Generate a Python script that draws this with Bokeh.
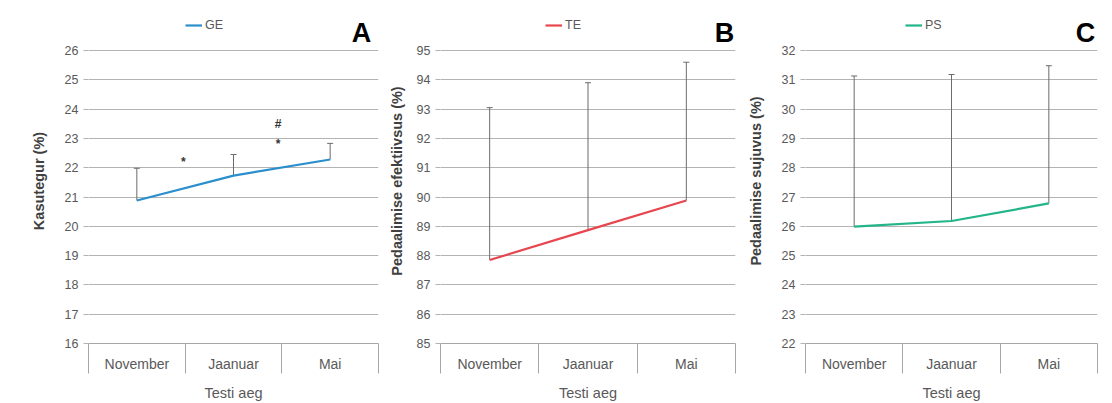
from bokeh.plotting import figure
from bokeh.models import (Range1d, FixedTicker, Whisker, ColumnDataSource, Legend,
                          LegendItem, Label, TeeHead)
from bokeh.layouts import row
from bokeh.embed import file_html
from bokeh.resources import INLINE
from bokeh.core.properties import value

# ---------------- data ----------------
categories = ["November", "Jaanuar", "Mai"]
x_title = "Testi aeg"

ge_mean = [20.88, 21.73, 22.28]
ge_sd = [1.10, 0.72, 0.55]
te_mean = [87.85, 88.87, 89.88]
te_sd = [5.20, 5.03, 4.72]
ps_mean = [25.99, 26.18, 26.78]
ps_sd = [5.14, 5.00, 4.70]

ge_ticks = [16, 17, 18, 19, 20, 21, 22, 23, 24, 25, 26]
te_ticks = [85, 86, 87, 88, 89, 90, 91, 92, 93, 94, 95]
ps_ticks = [22, 23, 24, 25, 26, 27, 28, 29, 30, 31, 32]

ge_marks = ["*", "#", "*"]
ge_mark_x = [0.98, 1.96, 1.96]
ge_mark_y = [22.2, 23.5, 22.8]

FONT = "Liberation Sans"
GRID = "#b3b3b3"
AXC = "#a6a6a6"
H = 403
TOP = 18         # frame starts above the value scale so legend / letter sit inside it
AXIS_TOP = 50    # where the value scale ends (top gridline)
BOTTOM = 60
VAL_H = H - BOTTOM - AXIS_TOP   # pixel height of the value scale
SEP = 30         # length of the category separators


def make_panel(name, color, mean, sd, ticks, ylabel, letter, width, left, right,
               ylabel_standoff, legend_x, letter_x, marks=None):
    xs = [i + 0.5 for i in range(len(categories))]
    upper = [m + s for m, s in zip(mean, sd)]
    src = ColumnDataSource(dict(x=xs, mean=mean, upper=upper))
    span = ticks[-1] - ticks[0]
    y_end = ticks[-1] + span * (AXIS_TOP - TOP) / VAL_H

    p = figure(width=width, height=H, x_range=Range1d(0, len(categories)),
               y_range=Range1d(ticks[0], y_end), output_backend="svg",
               toolbar_location=None, min_border_left=left, min_border_right=right,
               min_border_top=TOP, min_border_bottom=BOTTOM)
    p.outline_line_color = None
    p.background_fill_color = "white"
    p.border_fill_color = "white"
    p.xgrid.visible = False
    p.ygrid.grid_line_color = GRID
    p.ygrid.grid_line_width = 1

    # y axis
    p.yaxis.ticker = FixedTicker(ticks=ticks)
    p.yaxis.axis_line_color = None
    p.yaxis.major_tick_line_color = GRID
    p.yaxis.major_tick_out = 5
    p.yaxis.major_tick_in = 0
    p.yaxis.minor_tick_line_color = None
    p.yaxis.major_label_text_font = FONT
    p.yaxis.major_label_text_font_size = "12.5px"
    p.yaxis.major_label_text_color = "#595959"
    p.yaxis.major_label_standoff = 5
    p.yaxis.axis_label = ylabel
    p.yaxis.axis_label_text_font = FONT
    p.yaxis.axis_label_text_font_size = "14.5px"
    p.yaxis.axis_label_text_font_style = "bold"
    p.yaxis.axis_label_text_color = "#404040"
    p.yaxis.axis_label_standoff = ylabel_standoff

    # x axis: category labels at the centres, separators as minor ticks
    p.xaxis.ticker = FixedTicker(ticks=xs, minor_ticks=list(range(len(categories) + 1)))
    p.xaxis.major_label_overrides = {x: c for x, c in zip(xs, categories)}
    p.xaxis.major_tick_line_color = None
    p.xaxis.major_tick_out = 0
    p.xaxis.major_tick_in = 0
    p.xaxis.minor_tick_out = SEP
    p.xaxis.minor_tick_in = 0
    p.xaxis.minor_tick_line_color = AXC
    p.xaxis.axis_line_color = AXC
    p.xaxis.major_label_text_font = FONT
    p.xaxis.major_label_text_font_size = "14px"
    p.xaxis.major_label_text_color = "#595959"
    p.xaxis.major_label_standoff = 12 - SEP
    p.xaxis.axis_label = x_title
    p.xaxis.axis_label_text_font = FONT
    p.xaxis.axis_label_text_font_size = "14.5px"
    p.xaxis.axis_label_text_font_style = "normal"
    p.xaxis.axis_label_text_color = "#595959"
    p.xaxis.axis_label_standoff = 10

    # error bars (mean -> mean + SD)
    p.add_layout(Whisker(source=src, base="x", lower="mean", upper="upper",
                         dimension="height", lower_head=None,
                         upper_head=TeeHead(size=6, line_color="#6b6b6b", line_width=1),
                         line_color="#6b6b6b", line_width=1))

    r = p.line("x", "mean", source=src, line_color=color, line_width=2.2)

    if marks is not None:
        mt, mx, my = marks
        p.text(x=mx, y=my, text=mt, text_font=value(FONT), text_font_size="12px",
               text_font_style="bold", text_align="center", text_baseline="middle",
               text_color="#333333")

    legend = Legend(items=[LegendItem(label=name, renderers=[r])],
                    location=(legend_x, H - BOTTOM - 20 - 12),
                    orientation="horizontal", border_line_color=None,
                    background_fill_alpha=0, padding=0, margin=0, glyph_width=17,
                    glyph_height=12, label_height=12, label_standoff=3, spacing=0,
                    label_text_font=FONT, label_text_font_size="12.5px",
                    label_text_color="#595959")
    p.add_layout(legend)

    p.add_layout(Label(x=letter_x, y=H - BOTTOM - 32, x_units="screen", y_units="screen",
                       text=letter, text_font=FONT, text_font_size="27px",
                       text_font_style="bold", text_align="center",
                       text_baseline="alphabetic", text_color="#000000"))
    return p


pA = make_panel("GE", "#2a8fcc", ge_mean, ge_sd, ge_ticks, "Kasutegur (%)", "A",
                384, 88, 6, 15, 97, 273, marks=(ge_marks, ge_mark_x, ge_mark_y))
pB = make_panel("TE", "#e8464f", te_mean, te_sd, te_ticks, "Pedaalimise efektiivsus (%)", "B",
                360, 56, 9, 9, 105, 284)
pC = make_panel("PS", "#22b58a", ps_mean, ps_sd, ps_ticks, "Pedaalimise sujuvus (%)", "C",
                364, 59, 11, 15, 100, 280)

layout = row(pA, pB, pC)
open("out.html", "w").write(file_html(layout, INLINE))
